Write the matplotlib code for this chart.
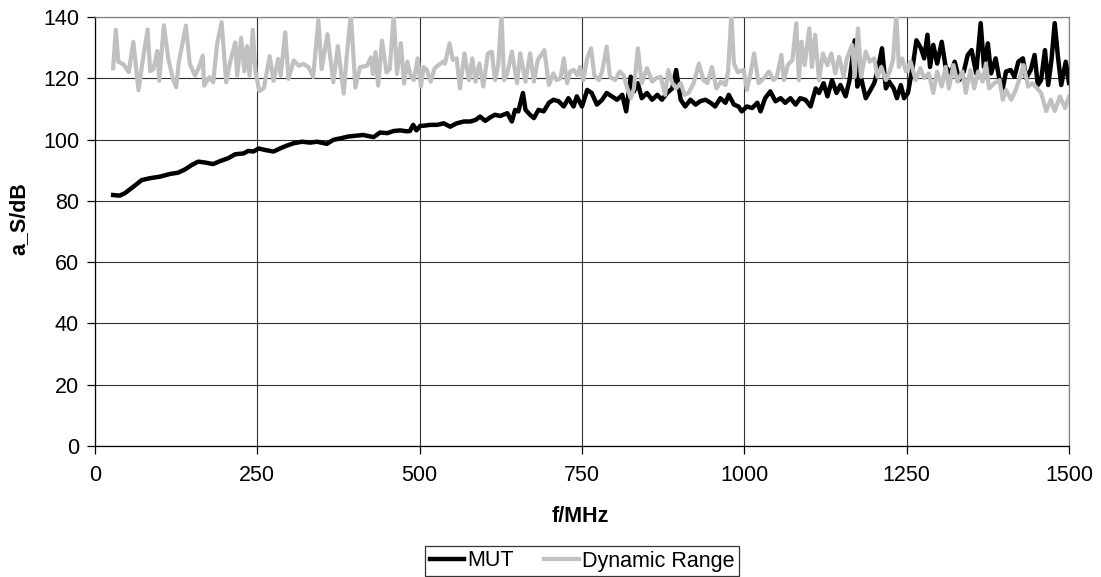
import matplotlib
matplotlib.use("Agg")
import matplotlib.pyplot as plt

plt.rcParams['font.family'] = ['Liberation Sans', 'DejaVu Sans']

# MUT trace (frequency in MHz, attenuation in dB)
mut_f = [28, 38, 46, 59, 72, 85, 100, 116, 128, 139, 149, 159, 170, 182, 193, 205,
         216, 229, 236, 244, 252, 262, 275, 285, 295, 306, 319, 331, 342, 357, 367,
         378, 390, 403, 413, 429, 439, 450, 460, 470, 480, 485, 490, 495, 501, 506,
         516, 527, 537, 547, 557, 568, 578, 586, 593, 601, 609, 616, 624, 635, 642,
         647, 652, 659, 663, 670, 676, 683, 691, 699, 706, 714, 722, 729, 737, 742,
         750, 758, 765, 773, 781, 788, 796, 804, 812, 818, 825, 830, 836, 842, 850,
         858, 866, 873, 881, 889, 895, 902, 909, 917, 925, 932, 940, 948, 955, 963,
         971, 976, 984, 991, 996, 1004, 1012, 1020, 1025, 1032, 1040, 1048, 1056,
         1063, 1071, 1079, 1086, 1094, 1102, 1110, 1115, 1122, 1128, 1135, 1142,
         1148, 1156, 1162, 1170, 1174, 1180, 1187, 1193, 1200, 1205, 1212, 1218,
         1223, 1230, 1235, 1241, 1246, 1252, 1256, 1260, 1265, 1272, 1277, 1282,
         1286, 1291, 1297, 1304, 1310, 1318, 1324, 1331, 1338, 1344, 1350, 1357,
         1364, 1369, 1375, 1380, 1387, 1393, 1398, 1403, 1410, 1416, 1422, 1429,
         1434, 1441, 1447, 1452, 1457, 1463, 1468, 1473, 1478, 1483, 1488, 1495, 1500]
mut_db = [81.9, 81.7, 82.5, 84.6, 86.8, 87.4, 87.9, 88.8, 89.2, 90.3, 91.7, 92.8, 92.5,
          92.0, 93.0, 93.9, 95.2, 95.5, 96.3, 96.1, 97.1, 96.6, 96.1, 97.1, 98.0, 98.8,
          99.3, 99.0, 99.3, 98.6, 99.9, 100.4, 101.0, 101.3, 101.5, 100.8, 102.3, 102.1,
          102.8, 103.0, 102.7, 102.8, 104.8, 103.0, 104.5, 104.5, 104.8, 104.8, 105.3,
          104.2, 105.3, 105.9, 105.9, 106.4, 107.5, 106.1, 107.3, 108.1, 107.7, 108.6,
          105.9, 109.7, 109.2, 115.2, 109.7, 108.1, 107.0, 109.7, 109.2, 112.0, 113.0,
          112.5, 110.8, 113.5, 110.8, 114.1, 110.8, 116.2, 115.2, 111.4, 113.0, 115.2,
          114.1, 113.0, 114.6, 109.2, 120.5, 115.7, 118.4, 113.5, 115.2, 113.0, 114.6,
          113.0, 115.2, 116.7, 122.7, 113.0, 110.8, 113.0, 111.4, 112.5, 113.0, 112.0,
          110.8, 113.5, 112.0, 114.6, 111.4, 110.8, 109.2, 110.8, 110.3, 112.0, 109.2,
          113.5, 115.7, 112.5, 113.5, 112.0, 113.5, 111.4, 113.5, 113.0, 110.8, 116.7,
          115.2, 118.4, 114.1, 119.4, 115.2, 117.8, 114.1, 119.4, 132.4, 117.3, 120.0,
          113.5, 115.7, 118.4, 122.2, 129.8, 116.7, 118.9, 116.7, 113.5, 117.8, 113.5,
          115.2, 120.0, 124.8, 132.4, 129.8, 126.5, 134.2, 123.7, 130.9, 124.8, 131.9,
          123.7, 121.6, 125.4, 119.4, 122.2, 127.6, 129.2, 121.6, 138.0, 123.7, 131.4,
          121.6, 126.5, 119.4, 116.7, 122.2, 122.7, 120.5, 125.4, 126.5, 120.0, 122.7,
          127.6, 117.8, 119.4, 129.2, 117.8, 126.0, 138.0, 127.0, 117.8, 125.4, 118.5]

# Dynamic range trace
dr_f = [28, 32, 36, 44, 52, 59, 67, 72, 81, 85, 90, 96, 99, 106, 113, 120, 125, 129,
        140, 146, 154, 159, 166, 168, 176, 182, 188, 195, 202, 208, 216, 219, 225, 230,
        234, 238, 243, 247, 253, 260, 269, 275, 282, 286, 293, 298, 306, 314, 321, 329,
        336, 344, 349, 358, 367, 374, 383, 388, 394, 401, 408, 419, 425, 428, 432, 436,
        442, 449, 454, 460, 465, 471, 476, 481, 486, 491, 497, 502, 506, 511, 517, 523,
        529, 536, 539, 546, 551, 557, 562, 569, 576, 581, 586, 592, 598, 605, 611, 616,
        621, 626, 630, 635, 642, 650, 655, 663, 670, 676, 682, 692, 699, 706, 711, 717,
        722, 727, 732, 737, 743, 747, 752, 758, 764, 769, 776, 781, 788, 793, 801, 808,
        814, 819, 825, 830, 836, 842, 850, 858, 864, 871, 878, 883, 889, 895, 902, 908,
        914, 922, 930, 937, 943, 950, 957, 964, 971, 975, 980, 984, 990, 999, 1004, 1009,
        1015, 1022, 1030, 1038, 1045, 1050, 1057, 1061, 1067, 1074, 1080, 1084, 1088,
        1093, 1100, 1104, 1109, 1115, 1121, 1128, 1134, 1140, 1146, 1153, 1158, 1166,
        1170, 1175, 1180, 1187, 1193, 1200, 1205, 1211, 1218, 1224, 1229, 1234, 1238,
        1243, 1249, 1256, 1264, 1271, 1277, 1284, 1291, 1297, 1304, 1310, 1315, 1322,
        1328, 1336, 1341, 1348, 1354, 1360, 1367, 1372, 1377, 1385, 1393, 1398, 1403,
        1411, 1418, 1424, 1430, 1437, 1444, 1451, 1457, 1465, 1472, 1478, 1486, 1494, 1500]
dr_db = [123.3, 135.8, 125.4, 124.5, 122.0, 131.9, 116.1, 123.7, 135.9, 122.3, 123.0,
         128.9, 119.2, 137.3, 126.3, 119.8, 117.1, 125.2, 137.2, 124.7, 120.9, 123.0,
         127.4, 117.6, 120.4, 118.7, 131.2, 138.3, 118.7, 125.2, 131.7, 120.9, 133.2,
         122.3, 130.5, 120.9, 135.8, 122.3, 115.8, 116.8, 127.2, 119.2, 126.3, 120.9,
         135.0, 119.8, 125.8, 124.1, 124.7, 123.6, 120.4, 138.9, 123.0, 134.4, 118.7,
         130.5, 115.0, 128.0, 141.0, 117.0, 123.6, 124.1, 126.8, 121.4, 128.5, 117.6,
         132.3, 121.9, 123.0, 141.0, 121.4, 131.5, 118.3, 125.4, 121.0, 119.4, 126.5,
         117.3, 123.7, 122.7, 118.9, 123.3, 124.3, 125.4, 124.8, 131.4, 126.0, 126.5,
         116.7, 128.1, 119.4, 126.5, 118.9, 124.8, 117.3, 128.1, 128.7, 119.4, 124.3,
         141.0, 119.4, 121.6, 128.7, 118.4, 128.1, 118.9, 128.1, 118.9, 126.0, 129.2,
         117.8, 121.6, 119.4, 120.0, 126.5, 118.4, 122.2, 122.7, 121.0, 123.7, 119.4,
         126.5, 129.8, 121.0, 119.4, 122.2, 130.3, 120.5, 119.4, 122.2, 121.0, 117.3,
         113.5, 116.7, 129.8, 118.4, 123.3, 118.9, 120.0, 120.5, 114.6, 122.7, 118.4,
         116.7, 118.4, 114.6, 115.2, 118.4, 124.8, 119.4, 118.4, 123.7, 116.7, 118.9,
         117.8, 122.2, 141.0, 124.8, 122.0, 122.7, 116.2, 121.0, 128.1, 118.4, 120.0,
         122.2, 119.4, 120.5, 127.6, 119.4, 124.3, 126.0, 138.0, 119.4, 131.9, 124.3,
         136.3, 123.7, 134.2, 119.4, 128.1, 124.3, 128.1, 121.6, 127.0, 120.5, 126.5,
         130.9, 120.5, 136.3, 120.5, 128.7, 125.4, 126.5, 120.5, 123.7, 119.4, 122.2,
         126.0, 141.0, 123.7, 126.5, 122.2, 125.4, 119.4, 123.3, 120.0, 121.6, 115.2,
         122.2, 117.3, 123.7, 116.7, 124.3, 118.9, 122.2, 115.2, 122.7, 116.7, 122.2,
         118.9, 124.8, 116.7, 118.4, 119.4, 113.0, 116.2, 113.0, 116.2, 120.0, 124.3,
         117.3, 118.4, 116.7, 115.2, 109.3, 113.0, 109.3, 114.1, 110.3, 114.0]

x_ticks = [0, 250, 500, 750, 1000, 1250, 1500]
y_ticks = [0, 20, 40, 60, 80, 100, 120, 140]

fs = 15.5

fig = plt.figure(figsize=(11.01, 5.77), dpi=100)
ax = fig.add_axes([95 / 1101, 1 - 446 / 577, 974 / 1101, 429 / 577])

ax.plot(mut_f, mut_db, color='black', lw=3.2, solid_joinstyle='round', label='MUT', zorder=3)
ax.plot(dr_f, dr_db, color='#c0c0c0', lw=3.0, solid_joinstyle='round', label='Dynamic Range', zorder=4)

ax.set_xlim(0, 1500)
ax.set_ylim(0, 140)
ax.set_xticks(x_ticks)
ax.set_yticks(y_ticks)
ax.grid(True, color='#303030', lw=0.8)
ax.set_axisbelow(True)

for side in ['left', 'bottom']:
    ax.spines[side].set_color('black')
    ax.spines[side].set_linewidth(0.9)
for side in ['top', 'right']:
    ax.spines[side].set_color('#808080')
    ax.spines[side].set_linewidth(0.9)

ax.tick_params(direction='out', length=5.5, width=0.9, labelsize=fs, pad=6)
ax.tick_params(axis='x', pad=8)

ax.set_xlabel('f/MHz', fontsize=fs, fontweight='bold')
ax.set_ylabel('a_S/dB', fontsize=fs, fontweight='bold')
ax.xaxis.set_label_coords(0.498, -0.14)
ax.yaxis.set_label_coords(-0.067, 0.531)

leg = fig.legend(loc='center', bbox_to_anchor=(582 / 1101, 1 - 561 / 577), ncol=2,
                 fontsize=fs, frameon=True, fancybox=False, handlelength=1.6,
                 handletextpad=0.15, columnspacing=1.4, borderpad=0.2)
leg.get_frame().set_edgecolor('black')
leg.get_frame().set_linewidth(0.9)

fig.savefig('out.png', dpi=100)
